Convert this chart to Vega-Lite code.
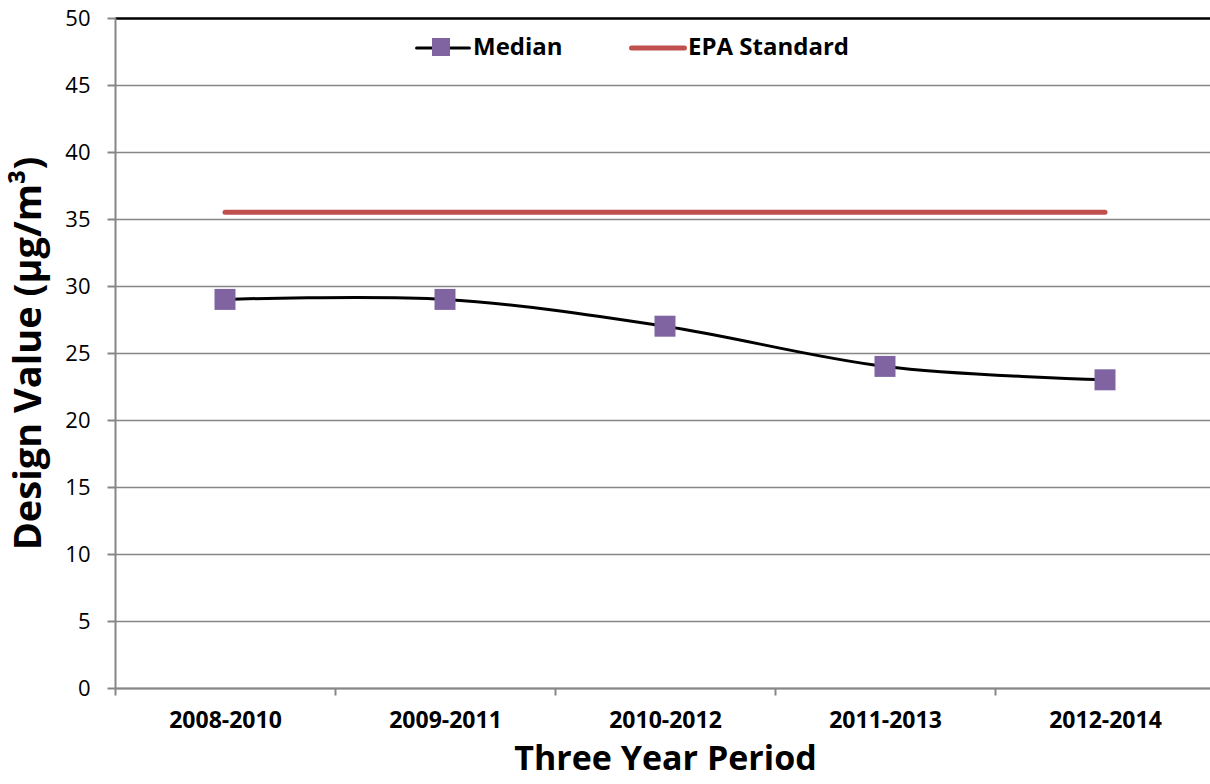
{
  "$schema": "https://vega.github.io/schema/vega-lite/v6.json",
  "autosize": {"type": "none"},
  "padding": {"left": 115, "top": 18, "right": 0, "bottom": 96},
  "width": 1100,
  "height": 670,
  "background": "white",
  "config": {
    "font": "Open Sans",
    "view": {"stroke": null}
  },
  "data": {
    "values": [
      {"period": "2008-2010", "series": "Median", "value": 29},
      {"period": "2009-2011", "series": "Median", "value": 29},
      {"period": "2010-2012", "series": "Median", "value": 27},
      {"period": "2011-2013", "series": "Median", "value": 24},
      {"period": "2012-2014", "series": "Median", "value": 23},
      {"period": "2008-2010", "series": "EPA Standard", "value": 35.5},
      {"period": "2009-2011", "series": "EPA Standard", "value": 35.5},
      {"period": "2010-2012", "series": "EPA Standard", "value": 35.5},
      {"period": "2011-2013", "series": "EPA Standard", "value": 35.5},
      {"period": "2012-2014", "series": "EPA Standard", "value": 35.5}
    ]
  },
  "encoding": {
    "x": {
      "field": "period",
      "type": "ordinal",
      "scale": {"paddingInner": 0, "paddingOuter": 0},
      "axis": {
        "title": "Three Year Period",
        "titleFontSize": 34,
        "titleFontWeight": "bold",
        "titleColor": "black",
        "titlePadding": 10,
        "labelAngle": 0,
        "labelFontSize": 23,
        "labelFontWeight": "bold",
        "labelColor": "black",
        "labelPadding": 14,
        "tickBand": "extent",
        "tickColor": "#868686",
        "tickWidth": 2,
        "tickSize": 7,
        "domainColor": "#868686",
        "domainWidth": 2,
        "grid": false
      }
    },
    "y": {
      "field": "value",
      "type": "quantitative",
      "scale": {"domain": [0, 50], "nice": false},
      "axis": {
        "title": "Design Value (µg/m³)",
        "titleFontSize": 38,
        "titleFontWeight": "bold",
        "titleColor": "black",
        "titlePadding": 16,
        "values": [0, 5, 10, 15, 20, 25, 30, 35, 40, 45, 50],
        "labelFontSize": 22,
        "labelColor": "black",
        "labelPadding": 17,
        "tickColor": "#868686",
        "tickWidth": 2,
        "tickSize": 8,
        "domainColor": "#868686",
        "domainWidth": 2,
        "grid": true,
        "gridColor": {"condition": {"test": "datum.value === 50", "value": "black"}, "value": "#868686"},
        "gridWidth": {"condition": {"test": "datum.value === 50", "value": 2.5}, "value": 1.5}
      }
    }
  },
  "layer": [
    {
      "transform": [{"filter": "datum.series === 'EPA Standard'"}],
      "mark": {"type": "line", "strokeWidth": 5, "strokeCap": "round"},
      "encoding": {
        "stroke": {
          "field": "series",
          "type": "nominal",
          "scale": {"domain": ["Median", "EPA Standard"], "range": ["black", "#C0504D"]},
          "legend": {
            "title": null,
            "orient": "none",
            "direction": "horizontal",
            "legendX": 316,
            "legendY": 18,
            "symbolType": "stroke",
            "symbolSize": 2800,
            "labelFontSize": 24,
            "labelFontWeight": "bold",
            "labelColor": "black",
            "labelOffset": 18,
            "labelLimit": 400,
            "columnPadding": 58,
            "encode": {
              "symbols": {
                "update": {
                  "strokeWidth": {"signal": "datum.value === 'Median' ? 3 : 5"},
                  "strokeCap": {"value": "round"},
                  "opacity": {"value": 1}
                }
              }
            }
          }
        }
      }
    },
    {
      "transform": [{"filter": "datum.series === 'Median'"}],
      "mark": {"type": "line", "strokeWidth": 3, "interpolate": "catmull-rom"},
      "encoding": {
        "stroke": {"field": "series", "type": "nominal"}
      }
    },
    {
      "transform": [{"filter": "datum.series === 'Median'"}],
      "mark": {"type": "point", "shape": "square", "filled": true, "size": 441, "opacity": 1, "strokeWidth": 0},
      "encoding": {
        "fill": {
          "field": "series",
          "type": "nominal",
          "scale": {"domain": ["Median"], "range": ["#8064A2"]},
          "legend": {
            "title": null,
            "orient": "none",
            "legendX": 317,
            "legendY": 20,
            "symbolType": "square",
            "symbolSize": 324,
            "symbolStrokeWidth": 0,
            "labelExpr": "''",
            "labelFontSize": 1,
            "encode": {"symbols": {"update": {"opacity": {"value": 1}}}}
          }
        }
      }
    }
  ]
}
